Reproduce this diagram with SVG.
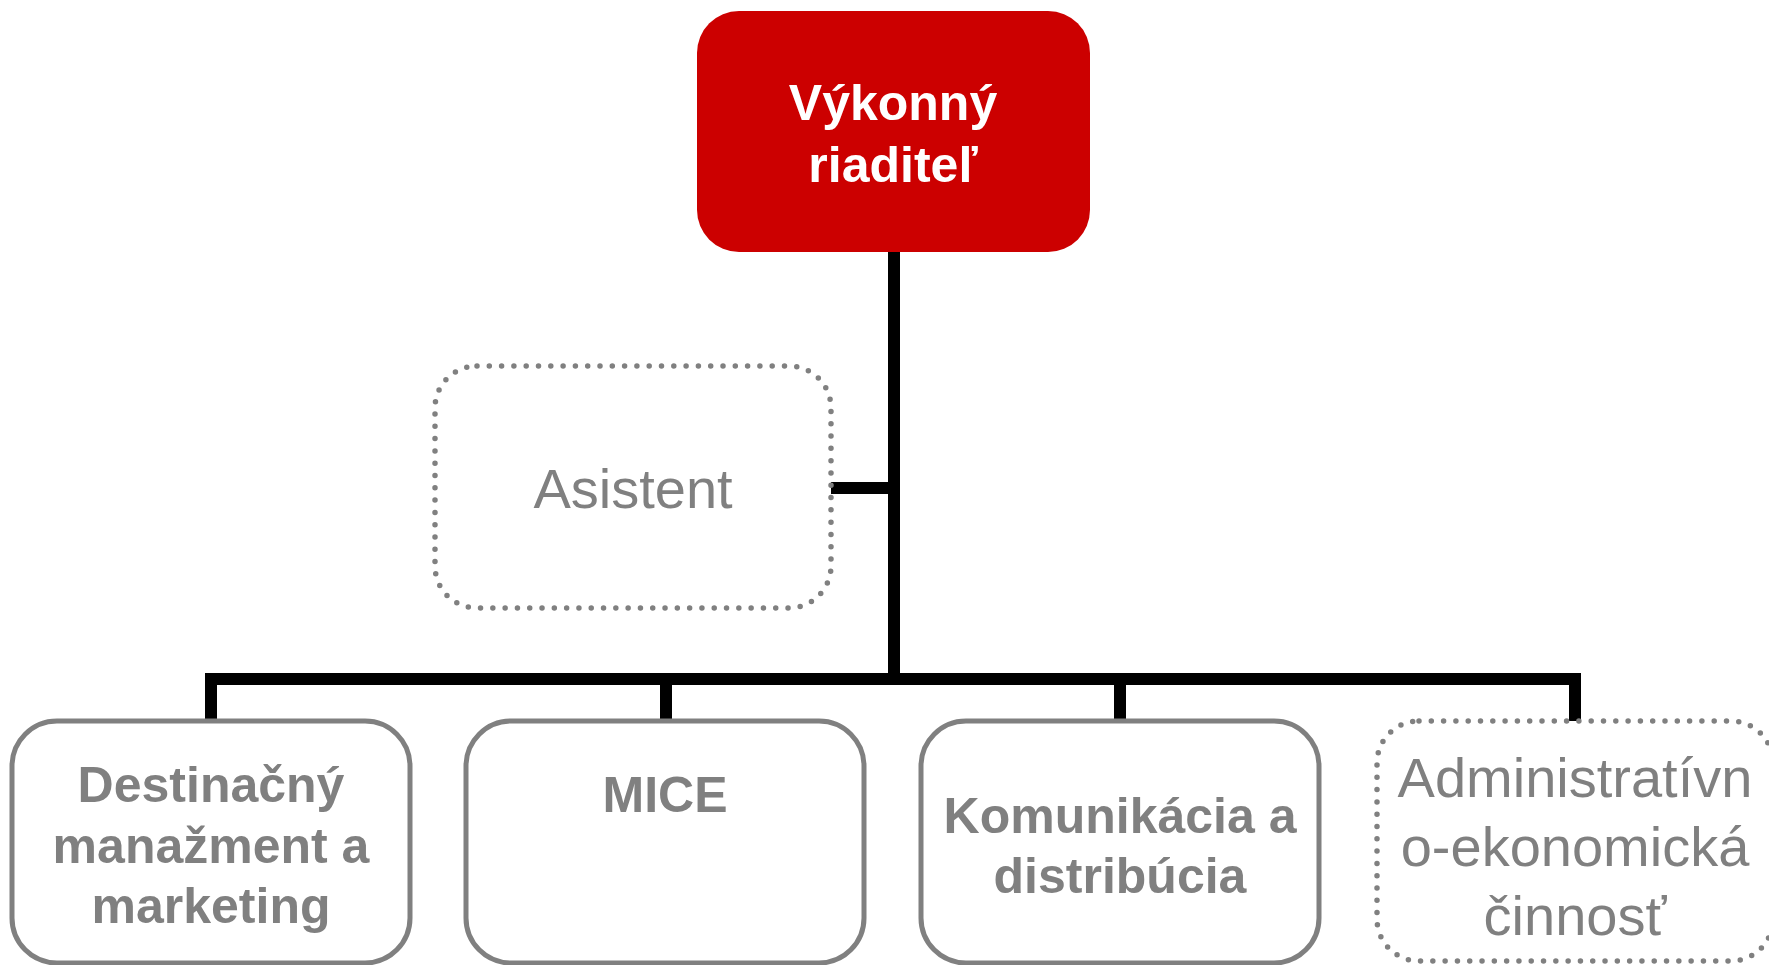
<svg xmlns="http://www.w3.org/2000/svg" width="1769" height="965" viewBox="0 0 1769 965">
<style>
.solid{fill:#ffffff;stroke:#808080;stroke-width:5}
.dotted{fill:#ffffff;stroke:#808080;stroke-width:5.5;stroke-dasharray:0 12.3;stroke-linecap:round}
.conn{fill:none;stroke:#000000;stroke-width:12;stroke-linecap:butt;stroke-linejoin:miter}
.tb{font-family:"Liberation Sans",Arial,sans-serif;font-weight:bold;font-size:50px;fill:#808080;text-anchor:middle}
.tr{font-family:"Liberation Sans",Arial,sans-serif;font-size:56px;fill:#808080;text-anchor:middle}
.tw{font-family:"Liberation Sans",Arial,sans-serif;font-weight:bold;font-size:50px;fill:#ffffff;text-anchor:middle}
</style>
<rect width="1769" height="965" fill="#ffffff"/>
<g id="connectors">
<path class="conn" d="M894,252 V679"/>
<path class="conn" d="M831,488 H894"/>
<path class="conn" d="M211,721 V679 H1575 V721"/>
<path class="conn" d="M666,679 V721"/>
<path class="conn" d="M1120,679 V721"/>
</g>
<g id="node-director">
<rect x="697" y="11" width="393" height="241" rx="42" ry="42" fill="#CC0000"/>
<text class="tw" x="893" y="120">Výkonný</text>
<text class="tw" x="893" y="182">riaditeľ</text>
</g>
<g id="node-asistent">
<rect class="dotted" x="435" y="366" width="396" height="242" rx="42" ry="42"/>
<text class="tr" x="633" y="508">Asistent</text>
</g>
<g id="node-destinacny">
<rect class="solid" x="12" y="721" width="398" height="242" rx="45" ry="45"/>
<text class="tb" x="211" y="802">Destinačný</text>
<text class="tb" x="211" y="863">manažment a</text>
<text class="tb" x="211" y="923">marketing</text>
</g>
<g id="node-mice">
<rect class="solid" x="466" y="721" width="398" height="242" rx="45" ry="45"/>
<text class="tb" x="665" y="812">MICE</text>
</g>
<g id="node-komunikacia">
<rect class="solid" x="921" y="721" width="398" height="242" rx="45" ry="45"/>
<text class="tb" x="1120" y="833">Komunikácia a</text>
<text class="tb" x="1120" y="893">distribúcia</text>
</g>
<g id="node-administrativa">
<rect class="dotted" x="1377" y="721" width="396" height="240" rx="42" ry="42"/>
<text class="tr" x="1575" y="797">Administratívn</text>
<text class="tr" x="1575" y="866">o-ekonomická</text>
<text class="tr" x="1575" y="935">činnosť</text>
</g>
</svg>
